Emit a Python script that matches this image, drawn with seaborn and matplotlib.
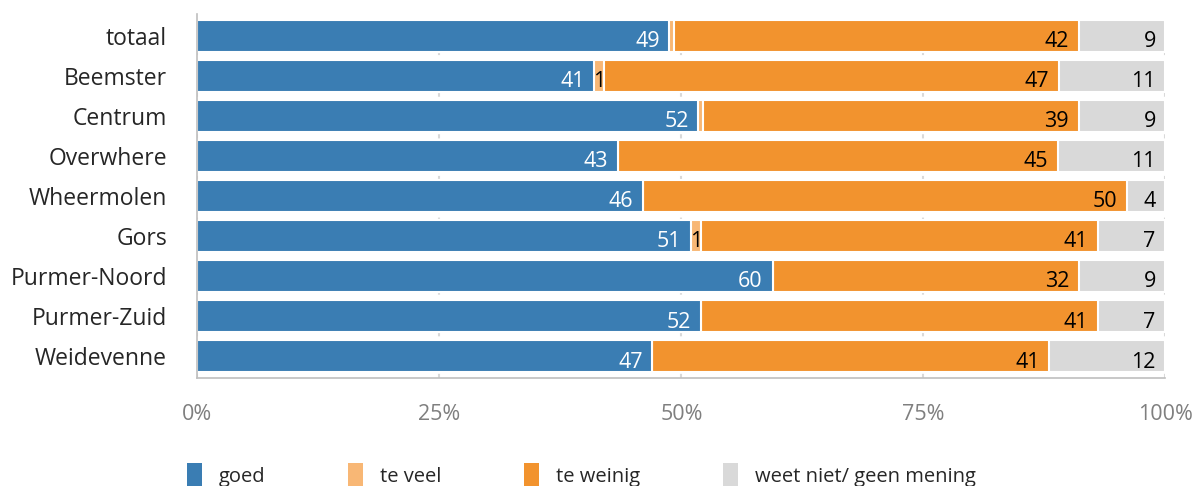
import matplotlib
matplotlib.use("Agg")
import matplotlib.pyplot as plt
from matplotlib.patches import Patch
import seaborn as sns
import numpy as np
import pandas as pd

# data (percentages per area)
areas = ["totaal", "Beemster", "Centrum", "Overwhere", "Wheermolen",
         "Gors", "Purmer-Noord", "Purmer-Zuid", "Weidevenne"]
goed = [49, 41, 52, 43, 46, 51, 60, 52, 47]
te_veel = [0.5, 1, 0.5, 0, 0, 1, 0, 0, 0]
te_weinig = [42, 47, 39, 45, 50, 41, 32, 41, 41]
weet_niet = [9, 11, 9, 11, 4, 7, 9, 7, 12]

series = ["goed", "te veel", "te weinig", "weet niet/ geen mening"]
colors = ["#3a7db3", "#f8b775", "#f2932e", "#d9d9d9"]
label_colors = ["white", "black", "black", "black"]

sns.set_style("white")
plt.rcParams["font.family"] = ["Open Sans", "DejaVu Sans"]

df = pd.DataFrame({"area": areas, "goed": goed, "te veel": te_veel,
                   "te weinig": te_weinig, "weet niet/ geen mening": weet_niet})
vals = df[series].to_numpy(dtype=float)
share = vals / vals.sum(axis=1, keepdims=True) * 100
cum = np.cumsum(share, axis=1)

fig, ax = plt.subplots(figsize=(12.04, 4.86), dpi=100)
fig.subplots_adjust(left=0.164, right=0.968, top=0.972, bottom=0.222)

# stacked bars: draw cumulative totals from the outermost layer inwards
for i in reversed(range(len(series))):
    sns.barplot(x=cum[:, i], y=df["area"], orient="h", color=colors[i],
                saturation=1, width=0.8, edgecolor="white", linewidth=1.5, ax=ax)

# value labels at the inside end of each segment
for r in range(len(areas)):
    for i in range(len(series)):
        v = vals[r, i]
        if v < 1:
            continue
        if i == 1:
            x, ha = cum[r, i] - share[r, i] / 2, "center"
        else:
            x, ha = cum[r, i] - 1.0, "right"
        ax.text(x, r + 0.15, f"{v:g}", ha=ha, va="center",
                fontsize=15.5, color=label_colors[i])

ax.set_xlim(0, 100)
ax.set_ylim(len(areas) - 0.45, -0.55)
ax.set_xticks([0, 25, 50, 75, 100])
ax.set_xticklabels(["0%", "25%", "50%", "75%", "100%"], fontsize=15.5, color="#7f7f7f")
ax.tick_params(axis="x", length=0, pad=19)
ax.tick_params(axis="y", length=0, pad=22, labelsize=16.5)
ax.set_xlabel("")
ax.set_ylabel("")
ax.xaxis.grid(True, linestyle=(0, (2, 3)), color="#d9d9d9", linewidth=1.5)
ax.set_axisbelow(True)
for s in ["top", "right"]:
    ax.spines[s].set_visible(False)
for s in ["left", "bottom"]:
    ax.spines[s].set_color("#bfbfbf")
    ax.spines[s].set_linewidth(1.2)

handles = [Patch(facecolor=c, edgecolor="none") for c in colors]
fig.legend(handles, series, loc="lower left", bbox_to_anchor=(0.14, -0.04),
           ncol=4, frameon=False, fontsize=14.5, handlelength=0.75,
           handleheight=1.5, handletextpad=0.85, columnspacing=4.1)

fig.savefig("out.png", dpi=100)
